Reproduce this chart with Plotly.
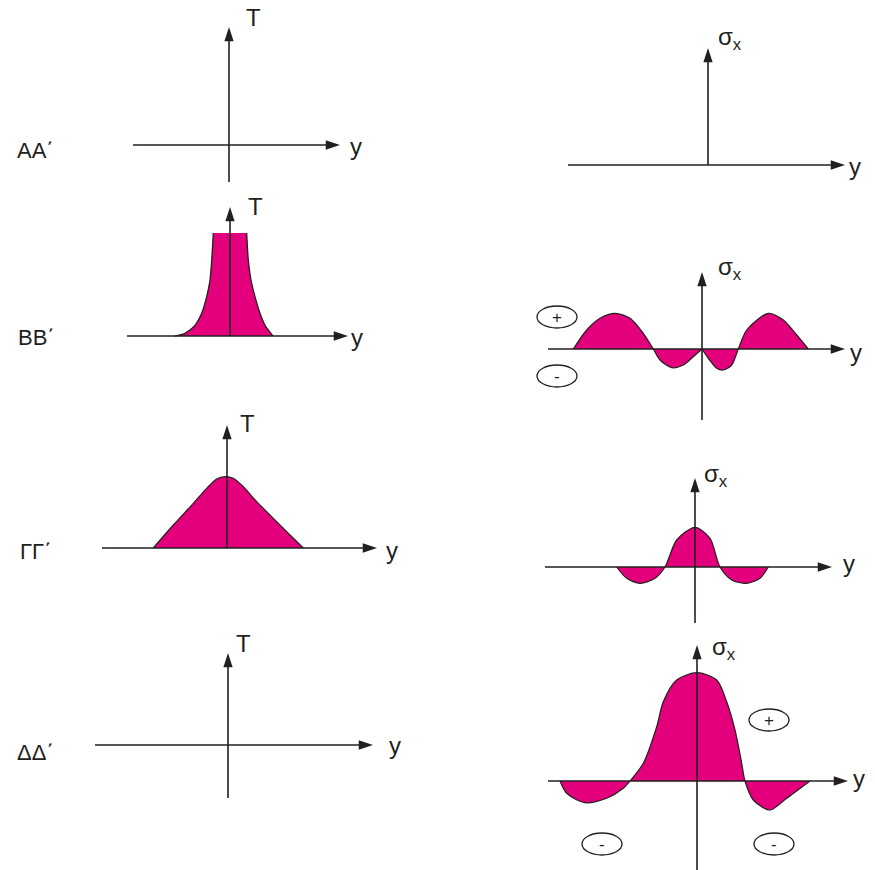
import plotly.graph_objects as go

W, H = 875, 870
INK = "#231f20"
MAGENTA = "#e4007c"
FONT = "Liberation Sans, Arial, sans-serif"

# Row captions (one per cross-section)
row_labels = ["ΑΑ΄", "ΒΒ΄", "ΓΓ΄", "ΔΔ΄"]

# Temperature profile T(y) at section ΒΒ΄: left flank, flat top, right flank
T_BB_left_y = [-55, -45, -35, -28.3, -23.3, -20, -18.3, -16.7]
T_BB_left_v = [0, 2.7, 10.7, 22.7, 39.3, 56, 76, 103]
T_BB_right_y = [16.7, 18.3, 21, 25, 30, 35, 43]
T_BB_right_v = [103, 76, 56, 39.3, 22.7, 10.7, 0]

# Temperature profile T(y) at section ΓΓ΄
T_GG_y = [-73.7, -53.7, -33.7, -20.3, -10.3, -2, 6.3, 16.3, 29.7, 46.3, 63, 76.3]
T_GG_v = [0, 23, 44.7, 59.7, 69, 71.3, 69.7, 61.3, 46.3, 29.7, 13, 0]

# Stress profile σx(y) at section ΒΒ΄ (two branches meeting in a cusp at y=0)
S_BB_left_y = [-128.7, -115.3, -102, -87, -72, -58.7, -48.7, -42, -30.3, -18.7, -8.7, 0]
S_BB_left_v = [0, 19, 30.7, 35.7, 30.7, 15.7, 0, -11, -18.7, -16, -7.7, 0]
S_BB_right_y = [0, 6.3, 14.7, 21.3, 29.7, 36.3, 44.7, 66.3, 81.3, 94.7, 106.3]
S_BB_right_v = [0, -9.3, -19.3, -21, -16, 0, 19, 35.7, 29, 14, 0]

# Stress profile σx(y) at section ΓΓ΄
S_GG_y = [-78.3, -68.3, -55, -40, -30, -18.3, 0, 15, 25, 36.7, 51.7, 65, 73.3]
S_GG_v = [0, -11.3, -16.3, -11.3, 0, 27, 39.7, 28.7, 0, -13, -16.3, -11.3, 0]

# Stress profile σx(y) at section ΔΔ΄
S_DD_y = [-137, -130.3, -112, -90.3, -73.7, -67, -53.7, -40.3, -33.7, -20.3, 0,
          19.7, 29.7, 38, 44.7, 48, 56.3, 73, 89.7, 113]
S_DD_v = [0, -12.3, -21.7, -17.3, -7.3, 0, 17.7, 54.3, 79.3, 101, 108.3,
          101, 79.3, 51, 17.7, 0, -19, -29, -17.3, 0]

# Panel layout: origin on the page (px) and axis extents in local units
panels = [
    dict(o=(229, 145), ax=(-96, 111, -37, 118), name="T",
         lab=(24, 128), ylab=(127, -1), row=(-194, -5, 0)),
    dict(o=(708, 165), ax=(-140, 137, 0, 117), name="σ<sub>x</sub>",
         lab=(22, 127), ylab=(147, -1)),
    dict(o=(230, 336), ax=(-103, 118, 0, 129), name="T",
         lab=(25, 130), ylab=(127, -1), row=(-194, -1, 1)),
    dict(o=(702, 349), ax=(-154, 143, -71, 77), name="σ<sub>x</sub>",
         lab=(28, 81), ylab=(154, -3)),
    dict(o=(227, 548), ax=(-125, 150, 0, 123), name="T",
         lab=(20, 125), ylab=(165, -2), row=(-191, -3, 2)),
    dict(o=(695, 567), ax=(-150, 137, -56, 89), name="σ<sub>x</sub>",
         lab=(21, 92), ylab=(154, 4)),
    dict(o=(228, 745), ax=(-133, 145, -53, 92), name="T",
         lab=(15, 102), ylab=(167, 0), row=(-193, -7, 3)),
    dict(o=(697, 781), ax=(-149, 151, -89, 136), name="σ<sub>x</sub>",
         lab=(27, 133), ylab=(162, 3)),
]

# Smooth curves drawn in each panel (panel index -> list of (y, value))
curves = {
    3: [(S_BB_left_y, S_BB_left_v), (S_BB_right_y, S_BB_right_v)],
    4: [(T_GG_y, T_GG_v)],
    5: [(S_GG_y, S_GG_v)],
    7: [(S_DD_y, S_DD_v)],
}

# Sign markers: panel index -> list of (y, value, sign)
signs = {
    3: [(-145, 32, "+"), (-145, -27, "-")],
    7: [(72, 61, "+"), (-95, -63, "-"), (77, -63, "-")],
}

fig = go.Figure()
layout = dict(
    width=W, height=H, margin=dict(l=0, r=0, t=0, b=0),
    paper_bgcolor="white", plot_bgcolor="rgba(0,0,0,0)",
    showlegend=False, annotations=[], shapes=[],
)


def ref(i):
    return ("x", "y") if i == 0 else (f"x{i + 1}", f"y{i + 1}")


for i, p in enumerate(panels):
    ox, oy = p["o"]
    xr, yr = ref(i)
    xa = "xaxis" if i == 0 else f"xaxis{i + 1}"
    ya = "yaxis" if i == 0 else f"yaxis{i + 1}"
    layout[xa] = dict(domain=[0, 1], range=[-ox, W - ox], visible=False,
                      anchor=yr, fixedrange=True)
    layout[ya] = dict(domain=[0, 1], range=[oy - H, oy], visible=False,
                      anchor=xr, fixedrange=True)

    # ΒΒ΄ temperature: flat-topped profile with sharp shoulders
    if i == 2:
        fig.add_trace(go.Scatter(
            x=T_BB_left_y + T_BB_right_y, y=T_BB_left_v + T_BB_right_v,
            xaxis=xr, yaxis=yr, mode="lines", line=dict(width=0),
            fill="tozeroy", fillcolor=MAGENTA, hoverinfo="skip"))
        for ys, vs in ((T_BB_left_y, T_BB_left_v), (T_BB_right_y, T_BB_right_v)):
            fig.add_trace(go.Scatter(
                x=ys, y=vs, xaxis=xr, yaxis=yr, mode="lines",
                line=dict(color=INK, width=1.3, shape="spline", smoothing=0.8),
                hoverinfo="skip"))

    for ys, vs in curves.get(i, []):
        fig.add_trace(go.Scatter(
            x=ys, y=vs, xaxis=xr, yaxis=yr, mode="lines",
            line=dict(color=INK, width=1.2, shape="spline", smoothing=0.8),
            fill="tozeroy", fillcolor=MAGENTA, hoverinfo="skip"))

    left, right, bottom, top = p["ax"]
    for xs, ys in (([left, right], [0, 0]), ([0, 0], [bottom, top])):
        fig.add_trace(go.Scatter(
            x=xs, y=ys, xaxis=xr, yaxis=yr, mode="lines+markers",
            line=dict(color=INK, width=1.6),
            marker=dict(symbol="arrow", angleref="previous", size=15,
                        color=INK, line=dict(width=0)),
            hoverinfo="skip"))

    lx, ly = p["lab"]
    layout["annotations"].append(dict(
        x=lx, y=ly, xref=xr, yref=yr, text=p["name"], showarrow=False,
        font=dict(family=FONT, size=24, color=INK)))
    yx, yy = p["ylab"]
    layout["annotations"].append(dict(
        x=yx, y=yy, xref=xr, yref=yr, text="y", showarrow=False,
        font=dict(family=FONT, size=24, color=INK)))
    if "row" in p:
        rx, ry, k = p["row"]
        layout["annotations"].append(dict(
            x=rx, y=ry, xref=xr, yref=yr, text=row_labels[k], showarrow=False,
            font=dict(family=FONT, size=22, color=INK)))

    for sx, sv, s in signs.get(i, []):
        layout["shapes"].append(dict(
            type="circle", xref=xr, yref=yr, x0=sx - 20, x1=sx + 20,
            y0=sv - 11, y1=sv + 11, line=dict(color=INK, width=1.3)))
        layout["annotations"].append(dict(
            x=sx, y=sv, xref=xr, yref=yr, text=s, showarrow=False,
            font=dict(family=FONT, size=17, color=INK)))

fig.update_layout(**layout)
fig.write_html("out.html")
